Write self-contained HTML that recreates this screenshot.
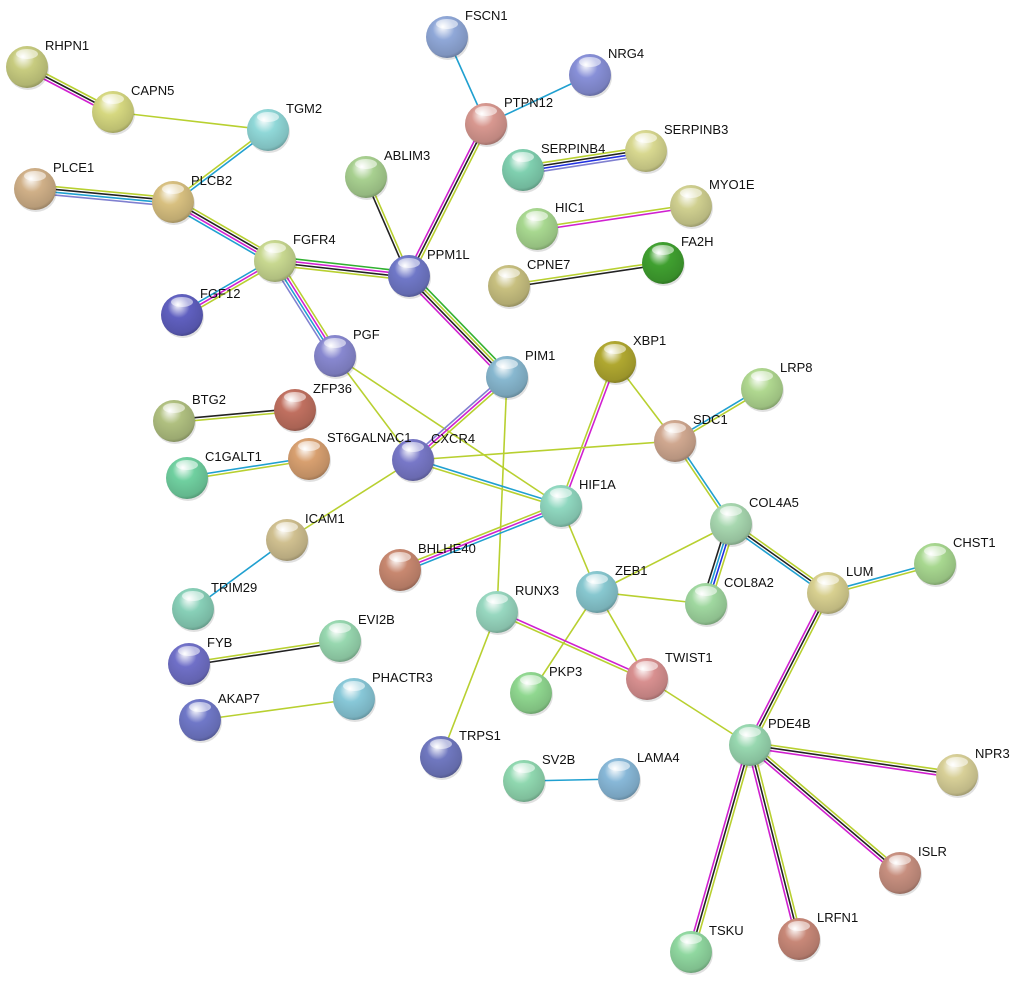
<!DOCTYPE html>
<html><head><meta charset="utf-8"><style>
html,body{margin:0;padding:0;background:#fff;}
svg text{font-family:"Liberation Sans",Arial,sans-serif;font-size:13px;fill:#111;}
</style></head><body>
<svg id="s" width="1020" height="986" viewBox="0 0 1020 986" xmlns="http://www.w3.org/2000/svg">
<defs id="d"></defs>
<g id="e"></g>
<g id="n"></g>
<g id="t">
<text x="45" y="50">RHPN1</text>
<text x="131" y="95">CAPN5</text>
<text x="286" y="113">TGM2</text>
<text x="53" y="172">PLCE1</text>
<text x="191" y="185">PLCB2</text>
<text x="293" y="244">FGFR4</text>
<text x="200" y="298">FGF12</text>
<text x="384" y="160">ABLIM3</text>
<text x="465" y="20">FSCN1</text>
<text x="608" y="58">NRG4</text>
<text x="504" y="107">PTPN12</text>
<text x="541" y="153">SERPINB4</text>
<text x="664" y="134">SERPINB3</text>
<text x="555" y="212">HIC1</text>
<text x="709" y="189">MYO1E</text>
<text x="681" y="246">FA2H</text>
<text x="527" y="269">CPNE7</text>
<text x="427" y="259">PPM1L</text>
<text x="353" y="339">PGF</text>
<text x="525" y="360">PIM1</text>
<text x="633" y="345">XBP1</text>
<text x="780" y="372">LRP8</text>
<text x="192" y="404">BTG2</text>
<text x="313" y="393">ZFP36</text>
<text x="693" y="424">SDC1</text>
<text x="205" y="461">C1GALT1</text>
<text x="327" y="442">ST6GALNAC1</text>
<text x="431" y="443">CXCR4</text>
<text x="579" y="489">HIF1A</text>
<text x="749" y="507">COL4A5</text>
<text x="953" y="547">CHST1</text>
<text x="305" y="523">ICAM1</text>
<text x="418" y="553">BHLHE40</text>
<text x="615" y="575">ZEB1</text>
<text x="724" y="587">COL8A2</text>
<text x="846" y="576">LUM</text>
<text x="515" y="595">RUNX3</text>
<text x="211" y="592">TRIM29</text>
<text x="207" y="647">FYB</text>
<text x="358" y="624">EVI2B</text>
<text x="549" y="676">PKP3</text>
<text x="665" y="662">TWIST1</text>
<text x="218" y="703">AKAP7</text>
<text x="372" y="682">PHACTR3</text>
<text x="459" y="740">TRPS1</text>
<text x="542" y="764">SV2B</text>
<text x="637" y="762">LAMA4</text>
<text x="768" y="728">PDE4B</text>
<text x="975" y="758">NPR3</text>
<text x="918" y="856">ISLR</text>
<text x="817" y="922">LRFN1</text>
<text x="709" y="935">TSKU</text>
</g>
</svg>
<script>
var N={RHPN1:[27,67,'#c8cc80'],CAPN5:[113,112,'#d6d880'],TGM2:[268,130,'#90d8d8'],PLCE1:[35,189,'#d0b088'],PLCB2:[173,202,'#d8c080'],FGFR4:[275,261,'#c8d890'],FGF12:[182,315,'#6060c0'],ABLIM3:[366,177,'#a8d090'],FSCN1:[447,37,'#90a8d8'],NRG4:[590,75,'#8890d8'],PTPN12:[486,124,'#d89890'],SERPINB4:[523,170,'#80d0b0'],SERPINB3:[646,151,'#d8d890'],HIC1:[537,229,'#a8d890'],MYO1E:[691,206,'#d0d090'],FA2H:[663,263,'#40a030'],CPNE7:[509,286,'#c8c080'],PPM1L:[409,276,'#7078c8'],PGF:[335,356,'#8888d0'],PIM1:[507,377,'#88b8d0'],XBP1:[615,362,'#b0a830'],LRP8:[762,389,'#b0d890'],BTG2:[174,421,'#b0c080'],ZFP36:[295,410,'#c07060'],SDC1:[675,441,'#d0a890'],C1GALT1:[187,478,'#70d0a0'],ST6GALNAC1:[309,459,'#d8a070'],CXCR4:[413,460,'#7878c8'],HIF1A:[561,506,'#90d8c0'],COL4A5:[731,524,'#a8d8b0'],CHST1:[935,564,'#a8d890'],ICAM1:[287,540,'#d0c090'],BHLHE40:[400,570,'#c88870'],ZEB1:[597,592,'#88c8d0'],COL8A2:[706,604,'#a0d8a0'],LUM:[828,593,'#d8d090'],RUNX3:[497,612,'#98d8c0'],TRIM29:[193,609,'#88d0b8'],FYB:[189,664,'#7070c8'],EVI2B:[340,641,'#98d8b0'],PKP3:[531,693,'#90d890'],TWIST1:[647,679,'#d89090'],AKAP7:[200,720,'#7078c8'],PHACTR3:[354,699,'#88c8d8'],TRPS1:[441,757,'#7078c0'],SV2B:[524,781,'#90d8b0'],LAMA4:[619,779,'#88b8d8'],PDE4B:[750,745,'#98d8b0'],NPR3:[957,775,'#d8d098'],ISLR:[900,873,'#c89080'],LRFN1:[799,939,'#c88878'],TSKU:[691,952,'#90d8a0']};
var Y='#b8d030',K='#222',M='#d020d0',C='#20a0d0',B='#2030e0',G='#30b030',P='#8080d0';
var E=[['RHPN1','CAPN5',[Y,K,M]],['CAPN5','TGM2',[Y]],['TGM2','PLCB2',[C,Y]],['PLCE1','PLCB2',[Y,K,C,P]],['PLCB2','FGFR4',[Y,K,M,C]],['FGFR4','FGF12',[Y,M,C]],['FGFR4','PPM1L',[G,M,K,Y]],['FGFR4','PGF',[Y,M,C,P]],['ABLIM3','PPM1L',[Y,K]],['PTPN12','PPM1L',[Y,K,M]],['FSCN1','PTPN12',[C]],['NRG4','PTPN12',[C]],['SERPINB4','SERPINB3',[Y,K,B,P]],['HIC1','MYO1E',[Y,M]],['CPNE7','FA2H',[Y,K]],['PPM1L','PIM1',[G,Y,K,M]],['PGF','CXCR4',[Y]],['PGF','HIF1A',[Y]],['PIM1','CXCR4',[Y,M,P]],['PIM1','RUNX3',[Y]],['XBP1','HIF1A',[M,Y]],['XBP1','SDC1',[Y]],['LRP8','SDC1',[Y,C]],['SDC1','CXCR4',[Y]],['SDC1','COL4A5',[C,Y]],['BTG2','ZFP36',[K,Y]],['C1GALT1','ST6GALNAC1',[C,Y]],['CXCR4','HIF1A',[C,Y]],['CXCR4','ICAM1',[Y]],['ICAM1','TRIM29',[C]],['HIF1A','BHLHE40',[C,M,Y]],['HIF1A','ZEB1',[Y]],['COL4A5','ZEB1',[Y]],['COL4A5','COL8A2',[Y,B,C,K]],['COL4A5','LUM',[Y,K,C]],['ZEB1','COL8A2',[Y]],['ZEB1','PKP3',[Y]],['ZEB1','TWIST1',[Y]],['RUNX3','TWIST1',[M,Y]],['RUNX3','TRPS1',[Y]],['TWIST1','PDE4B',[Y]],['LUM','CHST1',[C,Y]],['LUM','PDE4B',[Y,K,M]],['FYB','EVI2B',[Y,K]],['AKAP7','PHACTR3',[Y]],['SV2B','LAMA4',[C]],['PDE4B','NPR3',[Y,K,M]],['PDE4B','ISLR',[Y,K,M]],['PDE4B','LRFN1',[Y,K,M]],['PDE4B','TSKU',[Y,K,M]]];
var ns='http://www.w3.org/2000/svg',eg=document.getElementById('e'),ng=document.getElementById('n'),d=document.getElementById('d');
function el(t,a,p){var x=document.createElementNS(ns,t);for(var k in a)x.setAttribute(k,a[k]);p.appendChild(x);return x;}
E.forEach(function(e){var a=N[e[0]],b=N[e[1]],dx=b[0]-a[0],dy=b[1]-a[1],L=Math.hypot(dx,dy),px=-dy/L,py=dx/L,n=e[2].length;
e[2].forEach(function(c,i){var o=(i-(n-1)/2)*2.8;el('line',{x1:a[0]+px*o,y1:a[1]+py*o,x2:b[0]+px*o,y2:b[1]+py*o,stroke:c,'stroke-width':1.6},eg);});});
function dark(h,f){var r=parseInt(h.substr(1,2),16),g=parseInt(h.substr(3,2),16),b=parseInt(h.substr(5,2),16);return 'rgb('+Math.round(r*f)+','+Math.round(g*f)+','+Math.round(b*f)+')';}
var i=0;for(var k in N){var v=N[k];i++;var gr=el('radialGradient',{id:'g'+i,cx:'45%',cy:'40%',r:'65%',fx:'40%',fy:'25%'},d);
el('stop',{offset:'0%','stop-color':'#fff'},gr);el('stop',{offset:'40%','stop-color':v[2]},gr);el('stop',{offset:'85%','stop-color':dark(v[2],0.88)},gr);el('stop',{offset:'100%','stop-color':dark(v[2],0.65)},gr);
el('circle',{cx:v[0]+1,cy:v[1]+2,r:21,fill:'rgba(0,0,0,0.12)'},ng);
el('circle',{cx:v[0],cy:v[1],r:21,fill:'url(#g'+i+')'},ng);
el('ellipse',{cx:v[0],cy:v[1]-13,rx:11,ry:5,fill:'rgba(255,255,255,0.55)'},ng);}
</script>
</body></html>
